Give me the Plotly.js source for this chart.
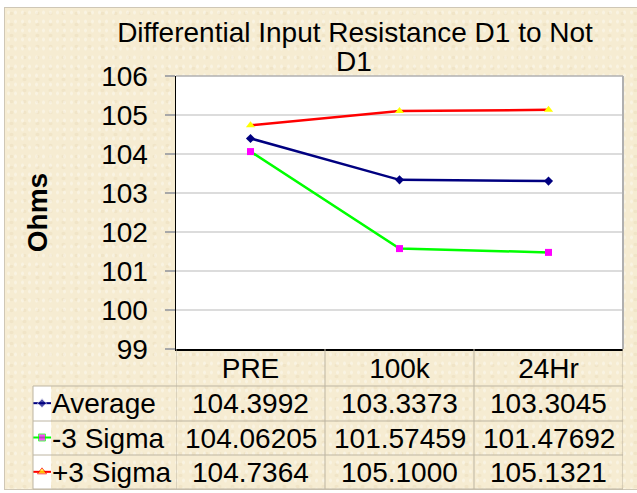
<!DOCTYPE html>
<html><head><meta charset="utf-8">
<script src="https://cdn.plot.ly/plotly-3.0.1.min.js"></script>
<style>
html,body{margin:0;padding:0;background:#fff;}
#wrap{position:relative;width:637px;height:493px;overflow:hidden;}
#bg{position:absolute;left:4px;top:7px;width:633px;height:481px;border-top:1px solid #cfc7b6;border-left:1px solid #cfc7b6;border-bottom:1px solid #cfc7b6;
  background-color:#f6ecd2;
  background-image:radial-gradient(rgba(255,255,255,0.35) 1px, transparent 2px),radial-gradient(rgba(214,196,150,0.18) 1.5px, transparent 2.5px);
  background-size:7px 9px, 13px 11px;}
#chart{position:absolute;left:0;top:0;width:637px;height:493px;}
</style></head><body>
<div id="wrap"><div id="bg"></div><div id="chart"></div></div>
<script>
// ---- data ----
const categories = ['PRE', '100k', '24Hr'];
const seriesNames = ['Average', '-3 Sigma', '+3 Sigma'];
const average = [104.3992, 103.3373, 103.3045];
const minus3Sigma = [104.06205, 101.57459, 101.47692];
const plus3Sigma = [104.7364, 105.1000, 105.1321];
const tableDecimals = [4, 5, 4];
const yRange = [99, 106];
const chartTitle = 'Differential Input Resistance D1 to Not';
const chartTitle2 = 'D1';
const yTitle = 'Ohms';

// ---- styling / layout helpers ----
const W = 637, H = 493;
const X = px => px / W;
const Y = py => 1 - py / H;
const FONT = 'Liberation Sans, Arial, sans-serif';
const FS = 28;
const plotL = 176, plotR = 623, plotT = 76, plotB = 349;
const rowEdges = [386, 421, 455, 489];
const tableLeft = 33;
const lineColor = '#bdb5a2';

const seriesData = [average, minus3Sigma, plus3Sigma];
const styles = [
  {line: '#000080', marker: '#000080', symbol: 'diamond', size: 7},
  {line: '#00ff00', marker: '#ff00ff', symbol: 'square', size: 7},
  {line: '#ff0000', marker: '#ffff00', symbol: 'triangle-up', size: 8}
];

const traces = [];
seriesData.forEach((vals, i) => {
  traces.push({
    type: 'scatter', mode: 'lines+markers', name: seriesNames[i],
    x: categories, y: vals, xaxis: 'x', yaxis: 'y',
    line: {color: styles[i].line, width: 2.5},
    marker: {color: styles[i].marker, symbol: styles[i].symbol, size: styles[i].size},
    showlegend: false, cliponaxis: false
  });
  // legend key in the data table
  traces.push({
    type: 'scatter', mode: 'lines+markers', name: seriesNames[i] + ' key',
    x: [0, 0.5, 1], y: [i, i, i], xaxis: 'x2', yaxis: 'y2',
    line: {color: styles[i].line, width: 2},
    marker: {color: styles[i].marker, symbol: styles[i].symbol, size: [0, styles[i].size, 0]},
    showlegend: false, hoverinfo: 'skip', cliponaxis: false
  });
});

const annotations = [];
const rowCenters = rowEdges.slice(0, -1).map((e, i) => (e + rowEdges[i + 1]) / 2);
seriesData.forEach((vals, s) => {
  annotations.push({
    xref: 'paper', yref: 'paper', x: X(50), y: Y(rowCenters[s]), xanchor: 'left', yanchor: 'middle',
    text: seriesNames[s], showarrow: false, font: {family: FONT, size: FS, color: '#000'}
  });
  vals.forEach((v, c) => {
    annotations.push({
      xref: 'x', yref: 'paper', x: categories[c], y: Y(rowCenters[s]), xanchor: 'center', yanchor: 'middle',
      text: v.toFixed(tableDecimals[s]), showarrow: false, font: {family: FONT, size: FS, color: '#000'}
    });
  });
});
annotations.push({
  xref: 'paper', yref: 'paper', x: X(353.5), y: Y(62), xanchor: 'center', yanchor: 'middle',
  text: chartTitle2, showarrow: false, font: {family: FONT, size: FS, color: '#000'}
});

const shapes = [];
rowEdges.forEach(e => shapes.push({type: 'line', xref: 'paper', yref: 'paper',
  x0: X(tableLeft), x1: X(plotR), y0: Y(e), y1: Y(e), line: {color: lineColor, width: 1}}));
shapes.push({type: 'line', xref: 'paper', yref: 'paper', x0: X(tableLeft), x1: X(tableLeft),
  y0: Y(rowEdges[0]), y1: Y(rowEdges[rowEdges.length - 1]), line: {color: lineColor, width: 1}});
for (let k = 0; k <= categories.length; k++) {
  shapes.push({type: 'line', xref: 'x', yref: 'paper', x0: k - 0.5, x1: k - 0.5,
    y0: Y(plotB), y1: Y(rowEdges[rowEdges.length - 1]), line: {color: lineColor, width: 1}});
}
// plot area top/right border
shapes.push({type: 'line', xref: 'paper', yref: 'paper', x0: X(plotL), x1: X(plotR), y0: Y(plotT), y1: Y(plotT), line: {color: '#b0b0b0', width: 1.5}});
shapes.push({type: 'line', xref: 'paper', yref: 'paper', x0: X(plotR), x1: X(plotR), y0: Y(plotT), y1: Y(plotB), line: {color: '#b0b0b0', width: 2}});

const layout = {
  width: W, height: H,
  margin: {l: 0, r: 0, t: 0, b: 0},
  paper_bgcolor: 'rgba(0,0,0,0)', plot_bgcolor: '#ffffff',
  font: {family: FONT, color: '#000'},
  title: {text: chartTitle, font: {family: FONT, size: FS, color: '#000'},
    x: X(355), xanchor: 'center', xref: 'paper', y: Y(32), yanchor: 'middle', yref: 'container'},
  showlegend: false,
  xaxis: {domain: [X(plotL), X(plotR)], type: 'category', categoryorder: 'array', categoryarray: categories,
    range: [-0.5, categories.length - 0.5], showline: true, linecolor: '#000', linewidth: 1.5,
    ticks: '', showgrid: false, zeroline: false, ticklabelstandoff: -6,
    tickfont: {family: FONT, size: FS, color: '#000'},
    anchor: 'y', fixedrange: true},
  yaxis: {domain: [Y(plotB), Y(plotT)], range: yRange, dtick: 1, tick0: 99, showline: true,
    linecolor: '#000', linewidth: 1.5, ticks: 'outside', ticklen: 10, tickcolor: '#a8a8a8', tickwidth: 1.5,
    showgrid: true, gridcolor: '#dcdcdc', gridwidth: 1.5, zeroline: false, ticklabelstandoff: 11,
    tickfont: {family: FONT, size: FS, color: '#000'},
    title: {text: yTitle, standoff: 45, font: {family: FONT, size: FS, color: '#000', weight: 'bold'}},
    anchor: 'x', fixedrange: true},
  xaxis2: {domain: [X(33), X(51)], range: [0, 1], visible: false, anchor: 'y2', fixedrange: true},
  yaxis2: {domain: [Y(rowEdges[3]), Y(rowEdges[0])], range: [2.5, -0.5], visible: false, anchor: 'x2', fixedrange: true},
  annotations: annotations,
  shapes: shapes
};

Plotly.newPlot('chart', traces, layout, {displayModeBar: false, staticPlot: true});
</script>
</body></html>
